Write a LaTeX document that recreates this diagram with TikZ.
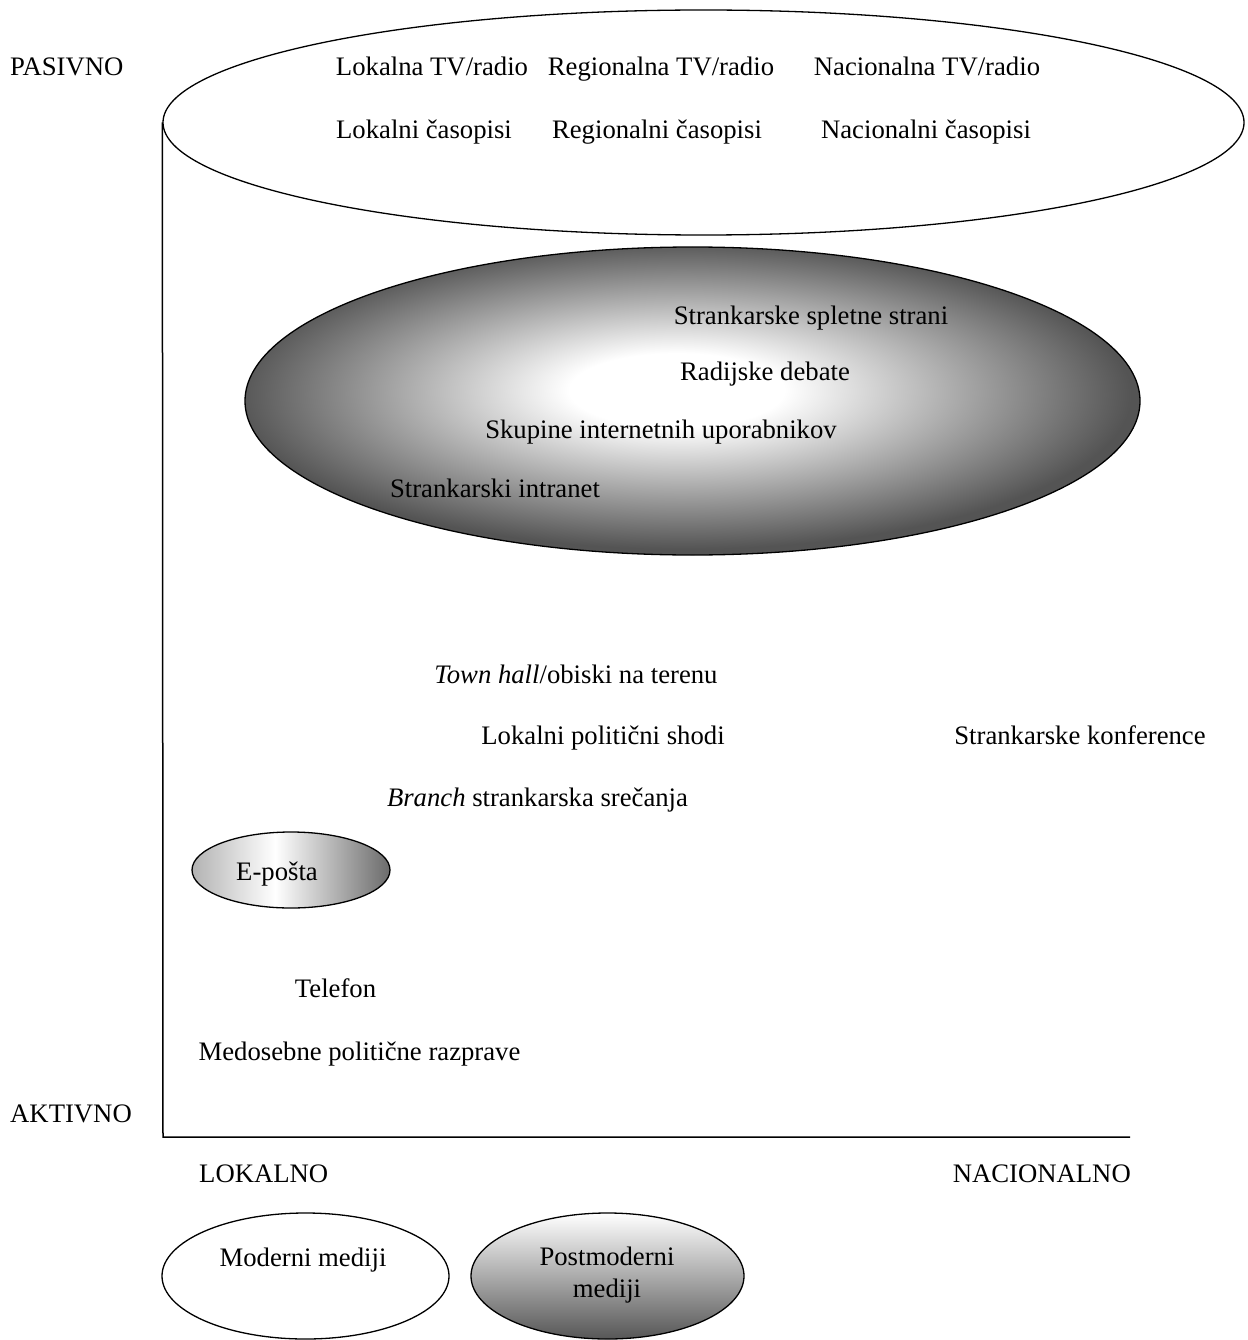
\documentclass[tikz,border=0pt]{standalone}
\usepackage{fontspec}
\setmainfont{Liberation Serif}
\usetikzlibrary{shapes.geometric}

\pgfdeclareradialshading{glow}{\pgfpoint{-1bp}{2bp}}{color(0bp)=(white); color(6bp)=(white); color(25bp)=(black!67); color(50bp)=(black!67)}
\pgfdeclarehorizontalshading{mailfade}{100bp}{color(0bp)=(black!30); color(25bp)=(black!30); color(46bp)=(white); color(75bp)=(black!58); color(100bp)=(black!58)}
\pgfdeclareverticalshading{fadedown}{100bp}{color(0bp)=(black!66); color(25bp)=(black!66); color(75bp)=(white); color(100bp)=(white)}

\begin{document}
\begin{tikzpicture}[x=1pt,y=-1pt,
  every node/.style={font=\fontsize{26.7}{32}\selectfont,inner sep=0pt},
  word/.style={anchor=base},
  oval/.style={ellipse,draw,line width=1.3pt}]

        \useasboundingbox (0,0) rectangle (1247,1340);

        % the ovals
        \node[oval,minimum width=1081pt,minimum height=225pt] (mass) at (703.5,122.5) {};
        \node[oval,shade,shading=glow,minimum width=895pt,minimum height=308pt] (net) at (692.5,401) {};
        \node[oval,shade,shading=mailfade,minimum width=198pt,minimum height=76pt] (mail) at (291,870) {};
        \node[oval,minimum width=287pt,minimum height=126pt] (modern) at (305.5,1276) {};
        \node[oval,shade,shading=fadedown,minimum width=273pt,minimum height=126pt] (postmod) at (607.5,1276) {};

        % axes
        \coordinate (origin) at (163,1137);
        \coordinate (natend) at (1130,1137);
        \draw[line width=1.5pt] (mass.west) -- (origin) -- (natend);

        \node[word,anchor=base west] (pas) at (10,76) {PASIVNO};
        \node[word,anchor=base west] (akt) at (10,1122) {AKTIVNO};
        \node[word,anchor=base west] (lok) at (199,1182) {LOKALNO};
        \node[word,anchor=base east] (nac) at (1131,1182) {NACIONALNO};

        \node[word] (loktv) at (432,76) {Lokalna TV/radio};
        \node[word] (regtv) at (661,76) {Regionalna TV/radio};
        \node[word] (nactv) at (927,76) {Nacionalna TV/radio};
        \node[word] (lokcas) at (424,139) {Lokalni časopisi};
        \node[word] (regcas) at (657,139) {Regionalni časopisi};
        \node[word] (naccas) at (926,139) {Nacionalni časopisi};

        \node[word] (splet) at (811,324) {Strankarske spletne strani};
        \node[word] (radio) at (765,380) {Radijske debate};
        \node[word] (skup) at (661,438) {Skupine internetnih uporabnikov};
        \node[word] (intra) at (495,497) {Strankarski intranet};

        \node[word] (town) at (576,683) {\textit{Town hall}/obiski na terenu};
        \node[word] (shodi) at (603,744) {Lokalni politični shodi};
        \node[word] (konf) at (1080,744) {Strankarske konference};
        \node[word] (branch) at (537.5,806) {\textit{Branch} strankarska srečanja};
        \node[word] (mailtxt) at (277,880) {E-pošta};
        \node[word] (tel) at (335.5,997) {Telefon};
        \node[word] (razp) at (359.5,1060) {Medosebne politične razprave};

        \node[word] (modtxt) at (303,1266) {Moderni mediji};
        \node[align=center] (posttxt) at (607,1275) {Postmoderni\\mediji};
\end{tikzpicture}
\end{document}
